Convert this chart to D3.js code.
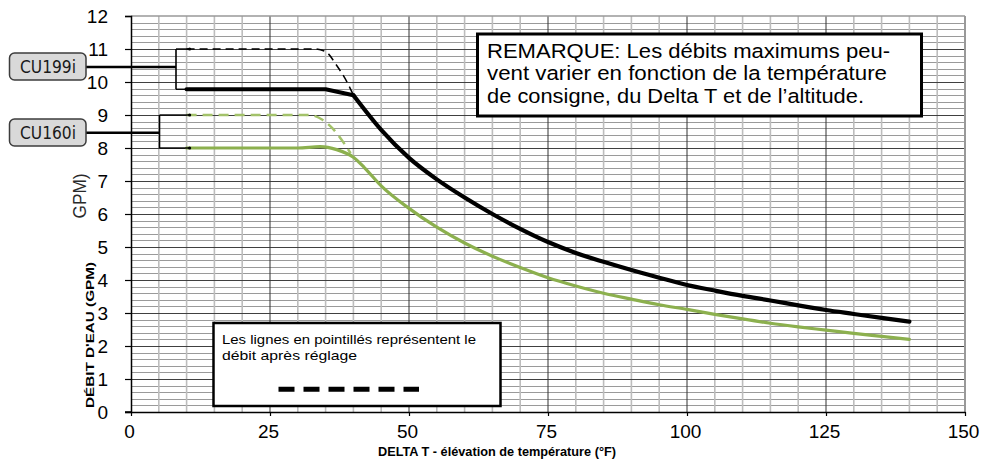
<!DOCTYPE html>
<html>
<head>
<meta charset="utf-8">
<script src="https://cdn.jsdelivr.net/npm/d3@7/dist/d3.min.js"></script>
<style>
  html, body { margin: 0; padding: 0; background: #fff; }
  svg { display: block; font-family: "Liberation Sans", Arial, sans-serif; }
</style>
</head>
<body>
<svg id="chart" width="981" height="460"></svg>
<script>
// ---- Data ----
const xTicks = [0, 25, 50, 75, 100, 125, 150];
const yTicks = [0, 1, 2, 3, 4, 5, 6, 7, 8, 9, 10, 11, 12];

const cu199Solid_x = [10, 15, 20, 25, 30, 35, 40, 45, 50, 55, 60, 65, 70, 75, 80, 85, 90, 95, 100, 105, 110, 115, 120, 125, 130, 135, 140];
const cu199Solid_y = [9.78, 9.78, 9.78, 9.78, 9.78, 9.78, 9.6, 8.55, 7.7, 7.05, 6.5, 6.0, 5.55, 5.15, 4.82, 4.55, 4.3, 4.07, 3.85, 3.68, 3.52, 3.38, 3.23, 3.09, 2.97, 2.85, 2.74];

const cu199Dash_x = [10, 15, 20, 25, 30, 33, 35, 37, 39, 40];
const cu199Dash_y = [11.0, 11.0, 11.0, 11.0, 11.0, 11.0, 10.92, 10.5, 9.95, 9.6];

const cu160Solid_x = [10, 15, 20, 25, 30, 34, 37, 40, 42, 45, 50, 55, 60, 65, 70, 75, 80, 85, 90, 95, 100, 105, 110, 115, 120, 125, 130, 135, 140];
const cu160Solid_y = [8.0, 8.0, 8.0, 8.0, 8.0, 8.04, 7.95, 7.72, 7.4, 6.85, 6.17, 5.6, 5.12, 4.72, 4.38, 4.07, 3.82, 3.6, 3.42, 3.25, 3.11, 2.96, 2.82, 2.69, 2.58, 2.48, 2.38, 2.29, 2.2];

const cu160Dash_x = [10, 15, 20, 25, 30, 32, 34.5, 36.5, 38.5, 39.5];
const cu160Dash_y = [9.0, 9.0, 9.0, 9.0, 9.0, 9.0, 8.85, 8.55, 8.1, 7.84];

const modelLabels = ["CU199i", "CU160i"];
const remarkLines = ["REMARQUE: Les débits maximums peu-", "vent varier en fonction de la température", "de consigne, du Delta T et de l’altitude."];
const legendLines = ["Les lignes en pointillés représentent le", "débit après réglage"];
const xTitle = "DELTA T - élévation de température (°F)";
const yTitleBold = "DÉBIT D'EAU (GPM)";
const yTitleLight = "GPM)";

// ---- Setup ----
const svg = d3.select("#chart");
const x = d3.scaleLinear().domain([0, 150]).range([131, 965]);
const y = d3.scaleLinear().domain([0, 12]).range([412, 16]);

const BLACK = "#000";
const GREEN = "#8cb04e";
const GREEN_DASH = "#a3c26a";

// ---- Grid ----
const grid = svg.append("g");
const hMinor = d3.range(1, 60).filter(i => i % 5 !== 0).map(i => i * 0.2);
grid.selectAll(".hmin").data(hMinor).join("line")
  .attr("x1", x(0)).attr("x2", x(150))
  .attr("y1", d => Math.round(y(d)) + 0.5).attr("y2", d => Math.round(y(d)) + 0.5)
  .attr("stroke", "#9a9a9a").attr("stroke-width", 1);
const vMinor = d3.range(5, 150, 5).filter(v => v % 25 !== 0);
grid.selectAll(".vmin").data(vMinor).join("line")
  .attr("x1", d => x(d)).attr("x2", d => x(d))
  .attr("y1", y(0)).attr("y2", y(12))
  .attr("stroke", "#bdbdbd").attr("stroke-width", 1.6);
grid.selectAll(".hmaj").data(d3.range(1, 12)).join("line")
  .attr("x1", x(0)).attr("x2", x(150))
  .attr("y1", d => Math.round(y(d)) + 0.5).attr("y2", d => Math.round(y(d)) + 0.5)
  .attr("stroke", "#404040").attr("stroke-width", 1);
grid.selectAll(".vmaj").data([25, 50, 75, 100, 125]).join("line")
  .attr("x1", d => x(d)).attr("x2", d => x(d))
  .attr("y1", y(0)).attr("y2", y(12))
  .attr("stroke", "#333").attr("stroke-width", 1);
grid.append("line").attr("x1", x(0)).attr("x2", x(150)).attr("y1", y(12)).attr("y2", y(12))
  .attr("stroke", "#999").attr("stroke-width", 1.5);
grid.append("line").attr("x1", x(150)).attr("x2", x(150)).attr("y1", y(0)).attr("y2", y(12))
  .attr("stroke", "#999").attr("stroke-width", 2);

// ---- Axes ----
const yAxis = svg.append("g").attr("transform", `translate(${x(0)},0)`)
  .call(d3.axisLeft(y).tickValues(yTicks).tickSize(6).tickPadding(17).tickFormat(d3.format("d")));
yAxis.select(".domain").attr("stroke", "#000").attr("stroke-width", 1.5);
yAxis.selectAll(".tick line").attr("stroke", "#000").attr("stroke-width", 1.2);
yAxis.selectAll("text").attr("font-size", 19).attr("fill", "#000")
  .attr("font-family", "'Liberation Sans', Arial, sans-serif");

const xAxis = svg.append("g").attr("transform", `translate(0,${y(0)})`)
  .call(d3.axisBottom(x).tickValues(xTicks).tickSize(4).tickSizeOuter(0).tickPadding(9).tickFormat(d3.format("d")));
xAxis.select(".domain").attr("stroke", "#000").attr("stroke-width", 1.5);
xAxis.selectAll(".tick line").attr("stroke", "#000").attr("stroke-width", 1.2);
xAxis.selectAll("text").attr("font-size", 19).attr("fill", "#000").attr("dx", -2)
  .attr("font-family", "'Liberation Sans Narrow', 'Liberation Sans', Arial, sans-serif");
svg.append("line").attr("x1", x(0) - 6).attr("x2", x(0)).attr("y1", y(0)).attr("y2", y(0))
  .attr("stroke", "#000").attr("stroke-width", 1.5);

// ---- Axis titles ----
svg.append("text")
  .attr("x", 497).attr("y", 456)
  .attr("text-anchor", "middle")
  .attr("font-family", "'Liberation Sans Narrow', 'Liberation Sans', Arial, sans-serif")
  .attr("font-weight", "bold").attr("font-size", 12.5)
  .attr("textLength", 238).attr("lengthAdjust", "spacingAndGlyphs")
  .text(xTitle);

svg.append("text")
  .attr("transform", "translate(94,335) rotate(-90)")
  .attr("text-anchor", "middle")
  .attr("font-weight", "bold").attr("font-size", 11.5)
  .attr("textLength", 146).attr("lengthAdjust", "spacingAndGlyphs")
  .text(yTitleBold);

svg.append("text")
  .attr("transform", "translate(86,196) rotate(-90)")
  .attr("text-anchor", "middle")
  .attr("font-size", 19).attr("fill", "#2a2a2a")
  .attr("textLength", 45).attr("lengthAdjust", "spacingAndGlyphs")
  .text(yTitleLight);

// ---- Lines ----
const smooth = d3.line().x(d => x(d[0])).y(d => y(d[1])).curve(d3.curveMonotoneX);
const straight = d3.line().x(d => x(d[0])).y(d => y(d[1]));
const zip = (a, b) => a.map((v, i) => [v, b[i]]);

svg.append("path").datum(zip(cu160Dash_x, cu160Dash_y)).attr("d", smooth)
  .attr("fill", "none").attr("stroke", GREEN_DASH).attr("stroke-width", 2.5)
  .attr("stroke-dasharray", "10,6");
svg.append("path").datum(zip(cu199Dash_x, cu199Dash_y)).attr("d", smooth)
  .attr("fill", "none").attr("stroke", BLACK).attr("stroke-width", 1.5)
  .attr("stroke-dasharray", "8,5");
svg.append("path").datum(zip(cu160Solid_x, cu160Solid_y)).attr("d", smooth)
  .attr("fill", "none").attr("stroke", GREEN).attr("stroke-width", 3.2)
  .attr("stroke-linecap", "round");

const cu199 = zip(cu199Solid_x, cu199Solid_y);
const kink = cu199Solid_x.indexOf(40);
svg.append("path").datum(cu199.slice(0, kink + 1)).attr("d", straight)
  .attr("fill", "none").attr("stroke", BLACK).attr("stroke-width", 4.2)
  .attr("stroke-linecap", "round").attr("stroke-linejoin", "round");
svg.append("path").datum(cu199.slice(kink)).attr("d", smooth)
  .attr("fill", "none").attr("stroke", BLACK).attr("stroke-width", 4.2)
  .attr("stroke-linecap", "round");

// ---- Model brackets & labels ----
function bracket(label, boxY, bx, yTop, yBot, lineY) {
  const g = svg.append("g");
  g.append("line").attr("x1", 86).attr("x2", bx).attr("y1", lineY).attr("y2", lineY)
    .attr("stroke", "#000").attr("stroke-width", 2.6);
  g.append("line").attr("x1", bx).attr("x2", bx).attr("y1", y(yTop)).attr("y2", y(yBot))
    .attr("stroke", "#000").attr("stroke-width", 1.6);
  [yTop, yBot].forEach(v => {
    g.append("line").attr("x1", bx).attr("x2", x(10) + 3).attr("y1", y(v)).attr("y2", y(v))
      .attr("stroke", "#000").attr("stroke-width", 1.4);
    g.append("circle").attr("cx", x(10) + 3).attr("cy", y(v)).attr("r", 1.6).attr("fill", "#000");
  });
  g.append("rect").attr("x", 9.5).attr("y", boxY).attr("width", 76.5).attr("height", 27)
    .attr("rx", 5).attr("fill", "#d9d9d9").attr("stroke", "#3c3c3c").attr("stroke-width", 1.5);
  g.append("text").attr("x", 48).attr("y", boxY + 13.5).attr("dy", "0.36em")
    .attr("text-anchor", "middle").attr("font-size", 17)
    .attr("font-family", "'DejaVu Sans', 'Liberation Sans', sans-serif")
    .attr("textLength", 56).attr("lengthAdjust", "spacingAndGlyphs")
    .attr("fill", "#1a1a1a").text(label);
}
bracket(modelLabels[0], 53, 176, 11.0, 9.78, 67);
bracket(modelLabels[1], 119, 159.5, 9.0, 8.0, 132.7);

// ---- Remark box ----
svg.append("rect").attr("x", 477.5).attr("y", 34).attr("width", 444).attr("height", 82)
  .attr("fill", "#fff").attr("stroke", "#000").attr("stroke-width", 3);
const remarkW = [403, 400, 377];
remarkLines.forEach((t, i) => {
  svg.append("text").attr("x", 487).attr("y", 57.5 + i * 22.7)
    .attr("font-size", 20.5).attr("fill", "#000")
    .attr("textLength", remarkW[i]).attr("lengthAdjust", "spacingAndGlyphs")
    .text(t);
});

// ---- Legend box ----
svg.append("rect").attr("x", 213.5).attr("y", 323).attr("width", 287).attr("height", 83)
  .attr("fill", "#fff").attr("stroke", "#000").attr("stroke-width", 2.5);
const legendW = [254, 135];
legendLines.forEach((t, i) => {
  svg.append("text").attr("x", 222).attr("y", 344 + i * 15.8)
    .attr("font-size", 13.5).attr("fill", "#000")
    .attr("textLength", legendW[i]).attr("lengthAdjust", "spacingAndGlyphs")
    .text(t);
});
svg.append("line").attr("x1", 278.5).attr("x2", 419).attr("y1", 389.3).attr("y2", 389.3)
  .attr("stroke", "#000").attr("stroke-width", 5).attr("stroke-dasharray", "16,9");
</script>
</body>
</html>
